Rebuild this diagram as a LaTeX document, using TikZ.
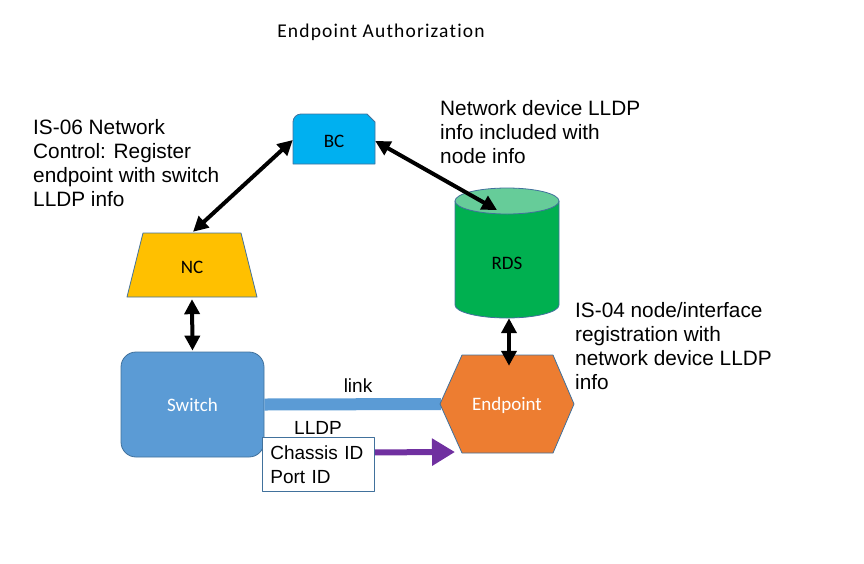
\documentclass[tikz,border=0pt]{standalone}
\usepackage{fontspec}
\setmainfont{Liberation Sans}
\newfontfamily\calibri{Carlito}
\newfontfamily\titlefont[LetterSpace=6,Ligatures=NoCommon]{Carlito}
\usetikzlibrary{arrows,arrows.meta}
\usetikzlibrary{positioning}

\definecolor{bcblue}{HTML}{00B0F0}
\definecolor{ncgold}{HTML}{FFC000}
\definecolor{rdsgreen}{HTML}{00B050}
\definecolor{rdslight}{HTML}{66CC99}
\definecolor{swblue}{HTML}{5B9BD5}
\definecolor{eporange}{HTML}{ED7D31}
\definecolor{lldppurple}{HTML}{7030A0}
\definecolor{edgeblue}{HTML}{41719C}

\tikzset{
  shapelabel/.style={font=\calibri\fontsize{19}{22}\selectfont,inner sep=0pt},
  note/.style={font=\fontsize{20.8}{24}\selectfont,align=left,inner sep=0pt,anchor=north west},
  sync/.style={<->,line width=4pt,black},
}

\begin{document}
\begin{tikzpicture}[line join=round,>={Triangle[length=15pt,width=15pt]},x=1pt,y=-1pt]
\useasboundingbox (0,0) rectangle (864,563);

\node[font=\titlefont\fontsize{19.5}{22}\selectfont] (title) at (381,32) {Endpoint Authorization};

% BC
\filldraw[fill=bcblue,draw=edgeblue,line width=0.8pt] (293,164) -- (293,122) arc[start angle=180,end angle=270,radius=8] -- (367,114) -- (375,122) -- (375,164) -- cycle;
\node[shapelabel,minimum width=82pt,minimum height=50pt] (bc) at (334,141) {BC};

% NC
\filldraw[fill=ncgold,draw=edgeblue,line width=0.8pt] (143,233) -- (241,233) -- (257,297) -- (127,297) -- cycle;
\node[shapelabel,minimum width=114pt,minimum height=64pt] (nc) at (192,267) {NC};

% RDS
\filldraw[fill=rdsgreen,draw=edgeblue,line width=0.8pt] (455,201) -- (455,305) arc[start angle=180,end angle=0,x radius=52,y radius=13] -- (559,201) -- cycle;
\filldraw[fill=rdslight,draw=edgeblue,line width=0.8pt] (507,201) ellipse [x radius=52,y radius=13];
\node[shapelabel,minimum width=104pt,minimum height=110pt] (rds) at (507,263) {RDS};
\coordinate (rdslid) at (497,210);

% link
\coordinate (linkend) at (441,404);
\node[shapelabel,text=white,fill=swblue,draw=edgeblue,line width=0.8pt,rounded corners=15pt,minimum width=143pt,minimum height=105pt] (sw) at (192.5,404.5) {Switch};
\draw[swblue,line width=12pt] (sw.east) -- (linkend);

% Endpoint
\filldraw[fill=eporange,draw=edgeblue,line width=0.8pt] (440,404) -- (462,355) -- (553,355) -- (574,404) -- (553,453) -- (462,453) -- cycle;
\node[shapelabel,text=white,minimum width=134pt,minimum height=98pt] (ep) at (507,405) {Endpoint};

\node[font=\fontsize{19}{22}\selectfont] (linklbl) at (358,386) {link};
\node[font=\fontsize{19}{22}\selectfont] (lldplbl) at (318,428) {LLDP};
\node[draw=edgeblue,line width=0.8pt,fill=white,font=\fontsize{19}{24}\selectfont,align=left,text width=96pt,inner xsep=8pt,inner ysep=0pt,minimum height=54pt,anchor=north west] (lldpbox) at (262,437) {Chassis ID\\Port ID};
\coordinate (lldptip) at (455,452);
\draw[-{Triangle[length=23pt,width=26pt]},lldppurple,line width=6pt] ([yshift=12pt]lldpbox.east) -- (lldptip);

% sync arrows
\draw[sync] ([xshift=1pt,yshift=3pt]nc.north) -- ([yshift=1pt]bc.west);
\draw[sync] (bc.east) -- (rdslid);
\draw[sync] (nc.south) -- ([yshift=1pt]sw.north);
\draw[sync] ([xshift=2pt]rds.south) -- ([xshift=2pt,yshift=-10pt]ep.north);

% notes
\node[note] (bcnote) at (33,119) {IS-06 Network\\Control: Register\\endpoint with switch\\LLDP info};
\node[note] (rdsnote) at (440,100) {Network device LLDP\\info included with\\node info};
\node[note] (epnote) at (575,302) {IS-04 node/interface\\registration with\\network device LLDP\\info};
\end{tikzpicture}
\end{document}
